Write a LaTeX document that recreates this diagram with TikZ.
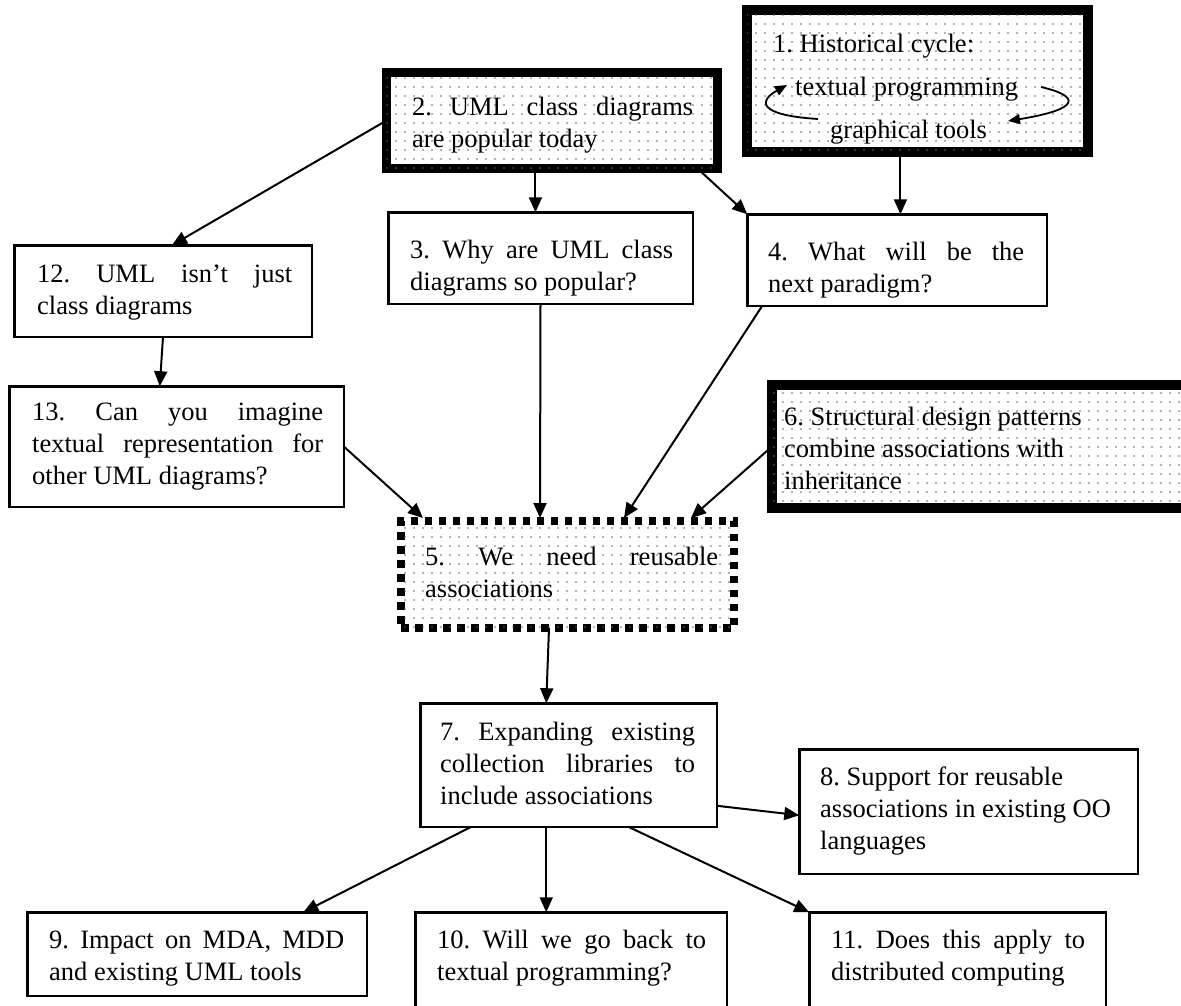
\documentclass[tikz,border=0pt]{standalone}
\usepackage{fontspec}
\setmainfont{Liberation Serif}
\usetikzlibrary{arrows.meta,patterns.meta,calc}
\frenchspacing
\newcommand\bx[7]{%
  \node[#2, line width=#7pt, anchor=north west, minimum width={(#5-#3-#7)*1pt}, minimum height={(#6-#4-#7)*1pt}] (#1) at ({#3+#7/2},{#4+#7/2}) {};}
\tikzset{
  plain/.style={draw, inner sep=0pt, outer sep=0pt, fill=white},
  dotted box/.style={draw, inner sep=0pt, outer sep=0pt, fill=white,
     postaction={pattern={Dots[distance=9pt,radius=0.85pt]}, pattern color=black!60}},
  square dots/.style={dotted box, dash pattern=on 7.5pt off 6.5pt},
  txt/.style={inner sep=0pt, anchor=base west, font=\fontsize{26.5}{32}\selectfont\frenchspacing},
  conn/.style={line width=2pt, -{Triangle[length=15pt,width=13pt]}},
  cyc/.style={line width=1.8pt, -{Triangle[length=12pt,width=10pt]}}
}
\begin{document}
\begin{tikzpicture}[x=1pt,y=-1pt]
\useasboundingbox (0,0) rectangle (1181,1005);
\clip (0,0) rectangle (1181,1005);
\fill[white] (0,0) rectangle (1181,1005);
% boxes
\bx{b1}{dotted box}{742}{5}{1093}{157}{10}
\bx{b2}{dotted box}{382}{68}{722}{173}{9}
\bx{b3}{plain}{387}{211}{694}{305}{2.5}
\bx{b4}{plain}{746}{213}{1048}{307}{2.5}
\bx{b12}{plain}{13}{244}{313}{338}{2.5}
\bx{b13}{plain}{8}{385}{345}{508}{2.5}
\bx{b6}{dotted box}{767}{380}{1195}{513}{10}
\bx{b5}{square dots}{397}{517}{738}{632}{8}
\bx{b7}{plain}{419}{702}{718}{828}{2.5}
\bx{b8}{plain}{798}{748}{1139}{875}{2.5}
\bx{b9}{plain}{26}{911}{368}{997}{2.5}
\bx{b10}{plain}{414}{911}{728}{1015}{2.5}
\bx{b11}{plain}{808}{911}{1107}{1015}{2.5}
% texts
\node[txt] (t1a) at (773,52) {1. Historical cycle:};
\node[txt] (t1b) at (795,95) {textual programming};
\node[txt] (t1c) at (830,138) {graphical tools};
\node[txt] (t2) at (412,115) {\parbox[t]{281pt}{\makebox[281pt][s]{2. UML class diagrams}\\are popular today}};
\node[txt] (t3) at (410,258) {\parbox[t]{263pt}{\makebox[263pt][s]{3. Why are UML class}\\diagrams so popular?}};
\node[txt] (t4) at (768,260) {\parbox[t]{256pt}{\makebox[256pt][s]{4. What will be the}\\next paradigm?}};
\node[txt] (t12) at (37,282) {\parbox[t]{255pt}{\makebox[255pt][s]{12. UML isn’t just}\\class diagrams}};
\node[txt] (t13) at (32,420) {\parbox[t]{291pt}{\makebox[291pt][s]{13. Can you imagine}\\\makebox[291pt][s]{textual representation for}\\other UML diagrams?}};
\node[txt] (t6) at (784,425) {\parbox[t]{380pt}{6. Structural design patterns\\combine associations with\\inheritance}};
\node[txt] (t5) at (425,565) {\parbox[t]{293pt}{\makebox[293pt][s]{5. We need reusable}\\associations}};
\node[txt] (t7) at (440,740) {\parbox[t]{255pt}{\makebox[255pt][s]{7. Expanding existing}\\\makebox[255pt][s]{collection libraries to}\\include associations}};
\node[txt] (t8) at (820,785) {\parbox[t]{310pt}{8. Support for reusable\\associations in existing OO\\languages}};
\node[txt] (t9) at (49,948) {\parbox[t]{295pt}{\makebox[295pt][s]{9. Impact on MDA, MDD}\\and existing UML tools}};
\node[txt] (t10) at (437,948) {\parbox[t]{269pt}{\makebox[269pt][s]{10. Will we go back to}\\textual programming?}};
\node[txt] (t11) at (831,948) {\parbox[t]{254pt}{\makebox[254pt][s]{11. Does this apply to}\\distributed computing}};
% cycle arrows in box 1
\coordinate (cyA) at (818,119);
\coordinate (cyB) at (787,85);
\coordinate (cyC) at (1041,87);
\coordinate (cyD) at (1008,121);
\draw[cyc] (cyA) .. controls (755,115) and (760,100) .. (cyB);
\draw[cyc] (cyC) .. controls (1080,96) and (1082,109) .. (cyD);
% connectors
\draw[conn] ($(b2.south west)!0.45!(b2.south east)$) -- (b3.north -| {$(b2.south west)!0.45!(b2.south east)$});
\draw[conn] ($(b2.south east)+(-20,0)$) -- (b4.north west);
\draw[conn] ($(b1.south west)!0.45!(b1.south east)$) -- (b4.north -| {$(b1.south west)!0.45!(b1.south east)$});
\draw[conn] ($(b2.north west)!0.5!(b2.south west)$) -- ($(b12.north west)!0.53!(b12.north east)$);
\draw[conn] ($(b12.south west)!0.5!(b12.south east)$) -- ($(b13.north west)!0.45!(b13.north east)$);
\draw[conn] ($(b13.north east)!0.5!(b13.south east)$) -- ($(b5.north west)+(22,-3)$);
\draw[conn] (b3.south) -- ($(b5.north west)+(139,-3)$);
\draw[conn] ($(b4.south west)+(15,0)$) -- ($(b5.north west)+(223,-3)$);
\draw[conn] ($(b6.north west)!0.5!(b6.south west)$) -- ($(b5.north west)+(290,-3)$);
\draw[conn] ($(b5.south west)+(148,0)$) -- ($(b7.north west)+(126,0)$);
\draw[conn] ($(b7.north east)!0.83!(b7.south east)$) -- ($(b8.north west)!0.53!(b8.south west)$);
\draw[conn] ($(b7.south west)+(51,0)$) -- ($(b9.north west)+(276,0)$);
\draw[conn] ($(b7.south west)+(126,0)$) -- ($(b10.north west)+(131,0)$);
\draw[conn] ($(b7.south west)+(208,0)$) -- (b11.north west);
\end{tikzpicture}
\end{document}
